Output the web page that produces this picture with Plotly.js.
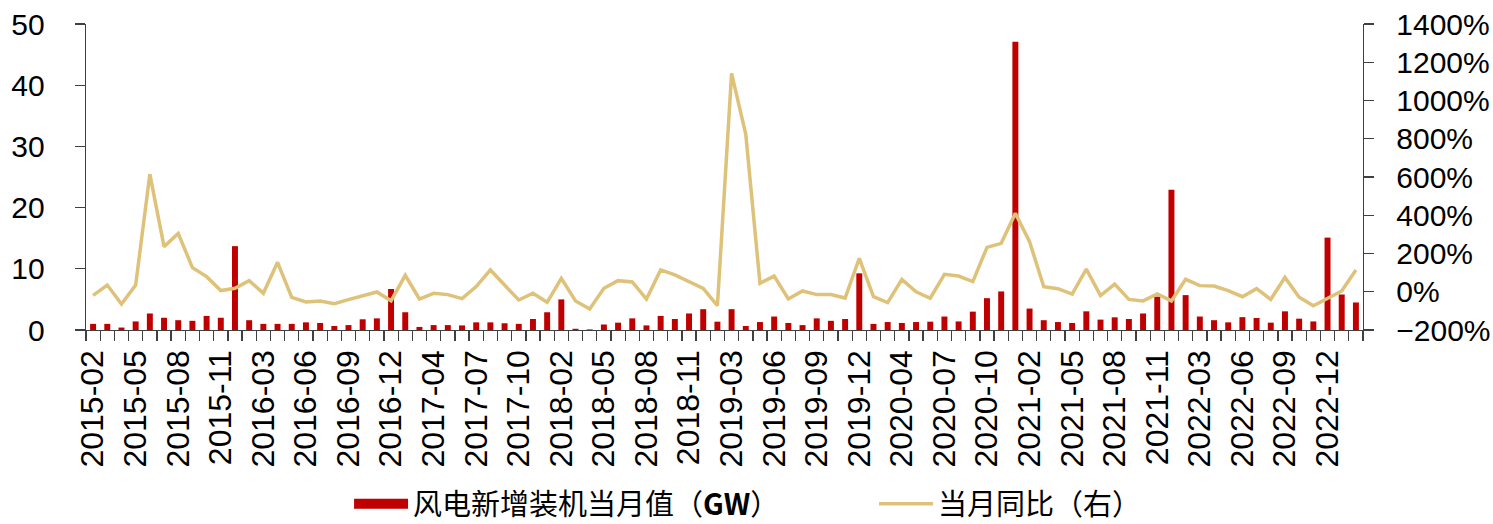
<!DOCTYPE html>
<html>
<head>
<meta charset="utf-8">
<script src="https://cdn.plot.ly/plotly-3.0.1.min.js"></script>
<style>html,body{margin:0;padding:0;background:#fff;}#chart{width:1493px;height:524px;}</style>
</head>
<body>
<div id="chart"></div>
<script>
const months = [
"2015-02","2015-03","2015-04","2015-05","2015-06","2015-07","2015-08","2015-09","2015-10","2015-11","2015-12",
"2016-02","2016-03","2016-04","2016-05","2016-06","2016-07","2016-08","2016-09","2016-10","2016-11","2016-12",
"2017-02","2017-03","2017-04","2017-05","2017-06","2017-07","2017-08","2017-09","2017-10","2017-11","2017-12",
"2018-02","2018-03","2018-04","2018-05","2018-06","2018-07","2018-08","2018-09","2018-10","2018-11","2018-12",
"2019-02","2019-03","2019-04","2019-05","2019-06","2019-07","2019-08","2019-09","2019-10","2019-11","2019-12",
"2020-02","2020-03","2020-04","2020-05","2020-06","2020-07","2020-08","2020-09","2020-10","2020-11","2020-12",
"2021-02","2021-03","2021-04","2021-05","2021-06","2021-07","2021-08","2021-09","2021-10","2021-11","2021-12",
"2022-02","2022-03","2022-04","2022-05","2022-06","2022-07","2022-08","2022-09","2022-10","2022-11","2022-12",
"2023-02","2023-03"];

const newCapacityGW = [
1.0,1.0,0.4,1.4,2.7,2.0,1.6,1.5,2.3,2.0,13.7,
1.6,1.0,1.0,1.0,1.25,1.15,0.65,0.8,1.75,1.9,6.7,
2.9,0.5,0.8,0.8,0.75,1.25,1.25,1.1,1.0,1.8,2.9,
5.0,0.2,0.1,0.9,1.2,1.9,0.75,2.3,1.8,2.7,3.4,
1.36,3.4,0.65,1.3,2.2,1.15,0.8,1.9,1.5,1.8,9.26,
1.0,1.3,1.15,1.3,1.36,2.2,1.4,3.0,5.2,6.3,47.1,
3.5,1.6,1.3,1.15,3.05,1.7,2.07,1.8,2.7,5.45,22.9,
5.7,2.2,1.6,1.25,2.1,1.96,1.2,3.05,1.85,1.4,15.1,
5.8,4.5];

const yoyPct = [
-19,35,-64,35,615,236,305,126,79,6,18,
58,-8,154,-29,-53,-48,-62,-41,-19,-1,-47,
86,-38,-8,-15,-36,27,114,35,-43,-8,-55,
70,-48,-90,18,58,51,-38,114,88,55,18,
-73,1142,823,44,82,-38,4,-15,-15,-33,175,
-26,-57,65,0,-34,91,82,53,232,253,410,
262,26,16,-12,118,-20,40,-40,-48,-12,-48,
65,32,30,6,-26,16,-40,75,-29,-73,-34,
4,114];

const tickLabels = months.map((m, i) => (i % 3 === 0 ? m : ""));

const barName = "风电新增装机当月值（<b>GW</b>）";
const lineName = "当月同比（右）";
const barColor = "#C00000";
const lineColor = "#DEC279";

const traces = [
  {
    type: "bar",
    x: months,
    y: newCapacityGW,
    name: barName,
    legendgroup: "bar",
    showlegend: false,
    marker: {color: barColor},
    yaxis: "y"
  },
  {
    // legend swatch for the bar series (wide red block, as in the reference)
    type: "scatter",
    mode: "lines",
    x: [null],
    y: [null],
    name: barName,
    legendgroup: "bar",
    line: {color: barColor, width: 15},
    hoverinfo: "skip",
    yaxis: "y"
  },
  {
    type: "scatter",
    mode: "lines",
    x: months,
    y: yoyPct,
    name: lineName,
    line: {color: lineColor, width: 3.5},
    yaxis: "y2"
  }
];

const tickFont = {family: "Liberation Sans, Arial, sans-serif", size: 30, color: "#000"};
const xTickFont = {family: "Liberation Sans, Arial, sans-serif", size: 32, color: "#000"};

const layout = {
  width: 1493,
  height: 524,
  margin: {l: 86, r: 130, t: 24, b: 194, autoexpand: false},
  paper_bgcolor: "#fff",
  plot_bgcolor: "#fff",
  bargap: 0.58,
  showlegend: true,
  legend: {
    orientation: "h",
    x: 0.206,
    xanchor: "left",
    y: -0.568,
    yanchor: "middle",
    font: {family: "Noto Sans CJK SC, sans-serif", size: 29, color: "#000"},
    itemwidth: 54,
    entrywidth: 456,
    traceorder: "normal"
  },
  xaxis: {
    type: "category",
    automargin: false,
    tickmode: "array",
    tickvals: months,
    ticktext: tickLabels,
    tickson: "boundaries",
    ticks: "outside",
    ticklen: 10,
    tickwidth: 1.3,
    tickcolor: "#404040",
    tickangle: -90,
    tickfont: xTickFont,
    ticklabelstandoff: 6,
    showline: true,
    linecolor: "#404040",
    linewidth: 1.3,
    showgrid: false,
    zeroline: false,
    range: [-0.5, months.length - 0.5]
  },
  yaxis: {
    automargin: false,
    range: [0, 50],
    dtick: 10,
    tick0: 0,
    ticks: "outside",
    ticklen: 10,
    tickwidth: 1.3,
    tickcolor: "#404040",
    tickfont: tickFont,
    ticklabelstandoff: 24,
    showline: true,
    linecolor: "#404040",
    linewidth: 1.3,
    showgrid: false,
    zeroline: false
  },
  yaxis2: {
    automargin: false,
    overlaying: "y",
    side: "right",
    range: [-200, 1400],
    dtick: 200,
    tick0: 0,
    ticksuffix: "%",
    ticks: "outside",
    ticklen: 10,
    tickwidth: 1.3,
    tickcolor: "#404040",
    tickfont: tickFont,
    ticklabelstandoff: 16,
    showline: true,
    linecolor: "#404040",
    linewidth: 1.3,
    showgrid: false,
    zeroline: false
  }
};

Plotly.newPlot("chart", traces, layout, {displayModeBar: false, staticPlot: true});
</script>
</body>
</html>
